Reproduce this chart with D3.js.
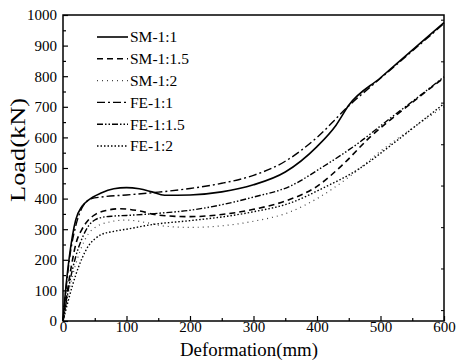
<!DOCTYPE html>
<html>
<head>
<meta charset="utf-8">
<script src="https://cdn.jsdelivr.net/npm/d3@7"></script>
<style>
  body { margin: 0; background: #fff; }
</style>
</head>
<body>
<div id="chart"></div>
<script>
// values: [deformation mm, load kN]
const sm11 = [[0, 0], [5, 120], [10, 210], [15, 280], [20, 330], [30, 375], [40, 395], [60, 418], [80, 432], [100, 436], [120, 432], [140, 422], [160, 411], [200, 412], [250, 422], [300, 445], [350, 487], [400, 570], [430, 640], [450, 705], [500, 795], [550, 885], [600, 975]]
const sm115 = [[0, 0], [5, 70], [10, 140], [15, 200], [20, 250], [30, 300], [40, 330], [50, 347], [70, 362], [90, 367], [120, 360], [150, 346], [200, 341], [250, 348], [300, 365], [350, 392], [400, 440], [440, 510], [483, 600], [540, 698], [600, 795]]
const sm12 = [[0, 0], [5, 55], [10, 105], [20, 185], [30, 245], [40, 285], [50, 305], [70, 322], [100, 330], [130, 322], [160, 310], [200, 306], [250, 311], [300, 326], [357, 356], [400, 400], [450, 470], [500, 555], [550, 630], [600, 700]]
const fe11 = [[0, 0], [5, 110], [10, 200], [20, 310], [30, 370], [45, 400], [60, 405], [100, 412], [150, 421], [200, 433], [250, 450], [300, 476], [350, 522], [400, 600], [450, 703], [500, 793], [550, 882], [600, 972]]
const fe115 = [[0, 0], [5, 60], [10, 120], [20, 210], [30, 270], [40, 310], [50, 330], [60, 338], [80, 343], [100, 345], [150, 352], [200, 362], [250, 380], [300, 405], [357, 440], [410, 505], [463, 578], [515, 662], [560, 733], [600, 798]]
const fe12 = [[0, 0], [5, 40], [10, 80], [20, 150], [30, 205], [40, 245], [50, 268], [60, 282], [80, 293], [100, 300], [140, 315], [200, 328], [250, 340], [300, 357], [357, 385], [410, 435], [463, 493], [520, 580], [560, 645], [600, 710]]

const seriesNames = ['SM-1:1', 'SM-1:1.5', 'SM-1:2', 'FE-1:1', 'FE-1:1.5', 'FE-1:2']
const seriesValues = [sm11, sm115, sm12, fe11, fe115, fe12]
const xTicks = [0, 100, 200, 300, 400, 500, 600]
const yTicks = [0, 100, 200, 300, 400, 500, 600, 700, 800, 900, 1000]

const FONT = "'Liberation Serif'"

// line looks per series
const styles = [
  { dash: null, width: 1.6, color: '#000' },
  { dash: '6,4', width: 1.6, color: '#000' },
  { dash: '1,4', width: 1.2, color: '#444' },
  { dash: '8,3,2,3', width: 1.4, color: '#000' },
  { dash: '6,2,1.5,2,1.5,2', width: 1.4, color: '#000' },
  { dash: '1.5,2', width: 1.4, color: '#000' }
]

const width = 456
const height = 361
const margin = { top: 15, right: 12, bottom: 40, left: 63 }

const svg = d3.select('#chart').append('svg')
  .attr('width', width)
  .attr('height', height)

const x = d3.scaleLinear().domain([0, 600]).range([margin.left, width - margin.right])
const y = d3.scaleLinear().domain([0, 1000]).range([height - margin.bottom, margin.top])

// curves
const line = d3.line()
  .x(d => x(d[0]))
  .y(d => y(d[1]))
  .curve(d3.curveMonotoneX)

svg.append('g')
  .selectAll('path')
  .data(seriesValues)
  .join('path')
  .attr('fill', 'none')
  .attr('stroke', (d, i) => styles[i].color)
  .attr('stroke-width', (d, i) => styles[i].width)
  .attr('stroke-dasharray', (d, i) => styles[i].dash)
  .attr('d', line)

// axes, ticks pointing inward
const xAxis = d3.axisBottom(x)
  .tickValues(d3.range(0, 601, 50))
  .tickSize(-5)
  .tickFormat(d => xTicks.includes(d) ? d : '')
const xg = svg.append('g')
  .attr('transform', `translate(0,${y(0)})`)
  .call(xAxis)
xg.selectAll('.tick line').attr('y2', d => d % 100 === 0 ? -5 : -3)

const yAxis = d3.axisLeft(y)
  .tickValues(d3.range(0, 1001, 50))
  .tickSize(-5)
  .tickFormat(d => yTicks.includes(d) ? d : '')
const yg = svg.append('g')
  .attr('transform', `translate(${x(0)},0)`)
  .call(yAxis)
yg.selectAll('.tick line').attr('x2', d => d % 100 === 0 ? 5 : 3)

for (const g of [xg, yg]) {
  g.select('.domain').remove()
  g.selectAll('.tick line').attr('stroke', '#000').attr('stroke-width', 1.2)
  g.selectAll('.tick text')
    .style('font-family', FONT)
    .style('font-size', '15px')
    .attr('fill', '#000')
}
xg.selectAll('.tick text').attr('dy', '0.2em').attr('y', 8)
yg.selectAll('.tick text').attr('x', -6)

// right side ticks (separate spacing as in the source figure)
const rightTicks = [34, 170, 305, 441, 576, 712, 847, 983]
svg.append('g')
  .selectAll('line')
  .data(rightTicks)
  .join('line')
  .attr('x1', x(600))
  .attr('x2', x(600) - 3)
  .attr('y1', d => y(d))
  .attr('y2', d => y(d))
  .attr('stroke', '#000')
  .attr('stroke-width', 1)

// frame
svg.append('rect')
  .attr('x', x(0))
  .attr('y', y(1000))
  .attr('width', x(600) - x(0))
  .attr('height', y(0) - y(1000))
  .attr('fill', 'none')
  .attr('stroke', '#000')
  .attr('stroke-width', 1.5)

// axis titles
svg.append('text')
  .attr('x', 249)
  .attr('y', 356)
  .attr('text-anchor', 'middle')
  .attr('textLength', 138)
  .attr('lengthAdjust', 'spacingAndGlyphs')
  .style('font-family', FONT)
  .style('font-size', '18px')
  .text('Deformation(mm)')

svg.append('text')
  .attr('transform', 'translate(25,150) rotate(-90)')
  .attr('text-anchor', 'middle')
  .attr('textLength', 104)
  .attr('lengthAdjust', 'spacingAndGlyphs')
  .style('font-family', FONT)
  .style('font-size', '20px')
  .text('Load(kN)')

// legend
const legend = svg.append('g')
  .selectAll('g')
  .data(seriesNames)
  .join('g')
  .attr('transform', (d, i) => `translate(97,${37 + i * 21.8})`)

legend.append('line')
  .attr('x1', 0)
  .attr('x2', 31)
  .attr('stroke', (d, i) => styles[i].color)
  .attr('stroke-width', (d, i) => styles[i].width)
  .attr('stroke-dasharray', (d, i) => styles[i].dash)

legend.append('text')
  .attr('x', 33)
  .attr('dy', '0.35em')
  .style('font-family', FONT)
  .style('font-size', '15.5px')
  .text(d => d)
</script>
</body>
</html>
